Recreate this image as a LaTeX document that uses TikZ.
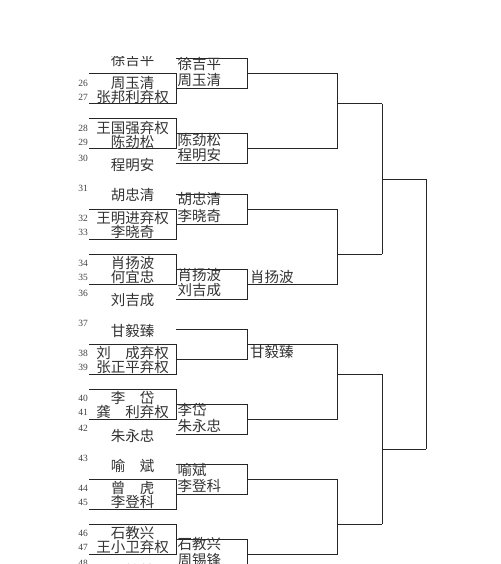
\documentclass[tikz,border=0pt]{standalone}
\usepackage{fontspec}
\setmainfont{Liberation Serif}
\newfontfamily\cjk{Noto Sans CJK SC}
\begin{document}
\begin{tikzpicture}[x=1pt,y=-1pt,
  ln/.style={line width=1pt, draw=black!85},
  nm/.style={font=\cjk\fontsize{14.5}{14.5}\selectfont, text=black!80, inner sep=0pt},
  wn/.style={nm, anchor=west},
  num/.style={font=\fontsize{9.5}{9.5}\selectfont, text=black!75, inner sep=0pt}]
\useasboundingbox (0,0) rectangle (500,564);
\clip (0,57) rectangle (500,564);
% round 1 pair boxes
\foreach \p in {74,119,209,254,344,389,479,524}
  \draw[ln] (89,\p) -- (176,\p) -- (176,\p+30) -- (89,\p+30);
% round 2 boxes
\foreach \t in {59,134,194,269,329,404,464,539}
  \draw[ln] (176,\t) -- (247,\t) -- (247,\t+30) -- (176,\t+30);
% round 3
\foreach \a/\b/\o in {74/149/104,209/284/254,344/419/374,479/554/524}{
  \draw[ln] (247,\a) -- (337,\a) -- (337,\b) -- (247,\b);
  \draw[ln] (337,\o) -- (382,\o);}
% round 4
\draw[ln] (382,104) -- (382,254);
\draw[ln] (382,179) -- (426,179);
\draw[ln] (382,374) -- (382,524);
\draw[ln] (382,449) -- (426,449);
% final
\draw[ln] (426,179) -- (426,449);

% column 1 names
\node[nm] (p25) at (132.5,60.5) {徐吉平};
\node[nm] (p26) at (132.5,83) {周玉清};
\node[nm] (p27) at (132.5,97) {张邦利弃权};
\node[nm] (p28) at (132.5,128) {王国强弃权};
\node[nm] (p29) at (132.5,142) {陈劲松};
\node[nm] (p30) at (132.5,165.5) {程明安};
\node[nm] (p31) at (132.5,195.5) {胡忠清};
\node[nm] (p32) at (132.5,218) {王明进弃权};
\node[nm] (p33) at (132.5,232) {李晓奇};
\node[nm] (p34) at (132.5,263) {肖扬波};
\node[nm] (p35) at (132.5,277) {何宜忠};
\node[nm] (p36) at (132.5,300.5) {刘吉成};
\node[nm] (p37) at (132.5,330.5) {甘毅臻};
\node[nm] (p38) at (132.5,353) {刘　成弃权};
\node[nm] (p39) at (132.5,367) {张正平弃权};
\node[nm] (p40) at (132.5,398) {李　岱};
\node[nm] (p41) at (132.5,412) {龚　利弃权};
\node[nm] (p42) at (132.5,435.5) {朱永忠};
\node[nm] (p43) at (132.5,465.5) {喻　斌};
\node[nm] (p44) at (132.5,488) {曾　虎};
\node[nm] (p45) at (132.5,502) {李登科};
\node[nm] (p46) at (132.5,533) {石教兴};
\node[nm] (p47) at (132.5,547) {王小卫弃权};
\node[nm] (p48) at (132.5,570.5) {王桂林};

% numbers
\foreach \n/\y in {26/83,27/97,28/128,29/142,30/158.5,31/188.5,32/218,33/232,
  34/263,35/277,36/293.5,37/323.5,38/353,39/367,40/398,41/412,42/428.5,
  43/458.5,44/488,45/502,46/533,47/547,48/563.5}
  \node[num] (n\n) at (83,\y) {\n};

% column 2
\node[wn] (a1) at (177.5,64.5) {徐吉平};
\node[wn] (a2) at (177.5,80.5) {周玉清};
\node[wn] (b1) at (177.5,139.5) {陈劲松};
\node[wn] (b2) at (177.5,155.5) {程明安};
\node[wn] (c1) at (177.5,199.5) {胡忠清};
\node[wn] (c2) at (177.5,215.5) {李晓奇};
\node[wn] (d1) at (177.5,274.5) {肖扬波};
\node[wn] (d2) at (177.5,290.5) {刘吉成};
\node[wn] (f1) at (177.5,409.5) {李岱};
\node[wn] (f2) at (177.5,425.5) {朱永忠};
\node[wn] (g1) at (177.5,469.5) {喻斌};
\node[wn] (g2) at (177.5,485.5) {李登科};
\node[wn] (h1) at (177.5,544.5) {石教兴};
\node[wn] (h2) at (177.5,560.5) {周锡锋};

% column 3
\node[wn] (cd) at (250,277) {肖扬波};
\node[wn] (ef) at (250,352) {甘毅臻};
\end{tikzpicture}
\end{document}
